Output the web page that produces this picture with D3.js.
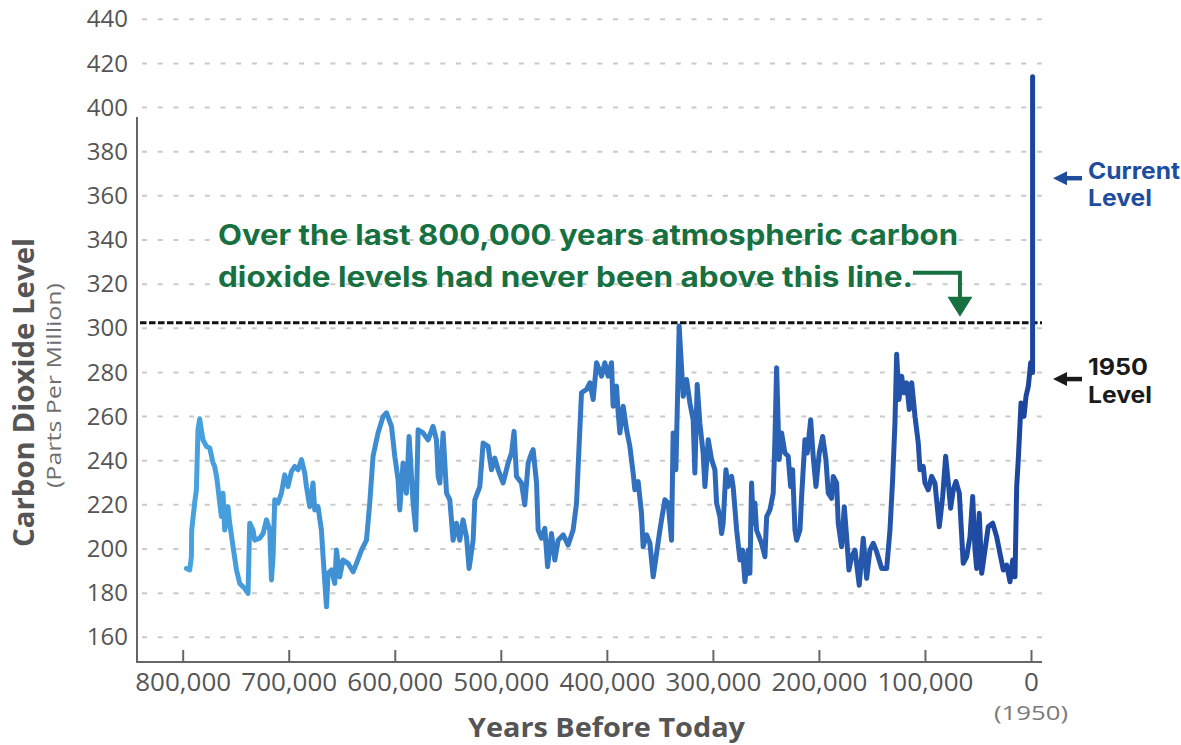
<!DOCTYPE html>
<html><head><meta charset="utf-8">
<script src="https://cdn.jsdelivr.net/npm/d3@7"></script>
<style>html,body{margin:0;padding:0;background:#fff;} svg{display:block}</style>
</head><body>
<svg id="chart" width="1181" height="745"></svg>
<script>
// ---- data: [thousand years before 1950, CO2 ppm] ----
const co2Record = [
[796.5,191.2],[793.4,190.5],[791.8,196.5],[791.5,208.6],[788.7,221.0],[787.1,226.8],[785.6,254.0],[784.0,259.0],[782.4,254.0],[780.9,249.5],[777.6,246.5],[774.5,245.8],[771.4,239.0],[769.8,237.4],[767.6,231.4],[765.8,223.8],[763.5,214.7],[762.0,225.3],[760.4,208.6],[757.3,219.2],[755.7,211.7],[752.5,201.0],[749.3,190.5],[746.2,184.4],[741.5,182.1],[738.4,179.9],[736.8,211.7],[733.7,208.6],[732.1,204.0],[727.4,204.9],[724.2,207.0],[721.0,213.2],[717.9,208.6],[716.3,186.0],[714.8,196.5],[713.2,222.3],[710.1,220.8],[706.9,225.3],[703.8,233.6],[700.7,228.3],[697.5,235.1],[694.3,237.4],[691.2,235.9],[688.0,240.5],[684.9,234.4],[683.3,228.3],[680.2,219.2],[677.1,229.9],[675.5,217.7],[672.4,219.2],[669.2,208.6],[667.6,196.5],[664.4,173.8],[662.9,189.0],[659.7,190.5],[656.6,184.4],[655.0,199.5],[651.9,187.4],[648.8,195.0],[644.1,193.5],[639.3,189.7],[636.1,193.5],[631.4,199.5],[626.7,204.0],[623.6,220.8],[620.5,242.0],[615.8,252.6],[611.0,260.1],[607.8,261.7],[603.1,255.6],[600.0,242.0],[596.9,231.4],[595.3,217.7],[592.2,239.0],[589.0,225.3],[586.5,251.0],[582.7,220.8],[580.2,208.6],[578.0,254.0],[573.3,252.6],[568.6,249.5],
[563.9,255.6],[560.7,249.5],[559.1,232.9],[557.5,229.9],[554.4,252.6],[551.2,225.3],[548.1,222.3],[545.0,204.0],[541.8,211.7],[538.7,204.0],[535.6,213.2],[532.4,205.6],[529.9,191.2],[526.1,204.0],[524.5,222.3],[519.8,228.3],[516.7,248.0],[512.0,246.5],[508.8,235.9],[505.7,241.2],[502.5,235.9],[497.8,229.9],[493.1,239.0],[489.9,243.5],[487.5,253.3],[485.2,232.9],[480.5,229.9],[477.4,220.0],[474.2,239.0],[471.0,243.5],[469.5,245.0],[466.3,229.9],[464.8,208.6],[461.6,204.9],[458.5,209.4],[455.9,192.0],[452.2,207.0],[449.1,195.0],[445.9,204.0],[441.2,206.4],[436.5,201.8],[431.8,208.6],[428.6,220.8],[425.5,254.0],[423.9,270.8],[419.1,272.3],[416.0,275.3],[412.9,267.7],[409.7,284.4],[405.0,278.3],[401.9,284.4],[398.8,278.3],[395.6,284.4],[394.1,264.7],[390.9,273.8],[389.3,261.7],[387.7,252.6],[384.6,264.7],[381.4,254.0],[378.3,246.5],[375.2,234.4],[373.6,226.8],[370.5,230.6],[367.3,216.2],[365.8,201.0],[362.5,206.4],[359.4,202.6],[356.3,187.4],[353.1,198.0],[350.0,208.6],[345.3,222.3],[342.2,220.8],[339.0,204.0],[337.5,252.6],[334.9,235.9],[331.8,301.0],[328.0,269.2],[324.8,276.8],[321.7,266.2],[318.6,258.6],[317.0,234.4],[314.8,274.5],
[312.3,257.1],[309.2,243.5],[307.5,228.3],[304.4,249.5],[301.2,240.5],[298.1,235.9],[296.5,220.8],[293.4,214.7],[291.8,207.0],[290.3,211.7],[287.7,235.9],[285.6,228.3],[282.4,232.9],[280.9,228.3],[277.6,208.6],[274.5,195.0],[272.0,199.5],[269.8,185.2],[266.7,199.5],[265.1,189.0],[263.5,229.9],[262.0,211.7],[260.4,220.8],[258.8,208.6],[254.1,202.6],[250.9,196.5],[249.3,214.7],[246.2,217.7],[243.1,225.3],[241.5,249.5],[239.9,282.1],[237.5,240.5],[235.2,252.6],[232.1,243.5],[229.0,242.0],[226.7,228.3],[224.8,235.9],[222.6,208.6],[221.0,204.0],[217.9,208.6],[216.3,223.8],[213.2,249.5],[211.0,243.5],[207.8,258.6],[205.4,242.0],[202.8,228.3],[199.7,243.5],[196.5,251.0],[193.4,240.5],[191.2,225.3],[188.0,223.0],[186.5,232.9],[183.3,229.9],[181.8,211.7],[178.6,201.0],[176.1,219.2],[173.9,205.6],[171.7,190.5],[169.2,196.5],[166.0,199.5],[162.0,183.6],[158.2,204.9],[155.0,186.7],[151.9,199.5],[148.8,202.6],[145.6,198.8],[140.8,191.2],[136.1,191.2],[133.0,208.6],[130.5,231.4],[128.3,257.1],[126.7,288.2],[124.5,267.7],[122.0,278.3],[119.8,270.8],[117.3,275.3],[114.8,263.2],[112.5,275.3],[109.4,260.1],[106.3,248.0],[104.7,235.9],[101.6,237.4],[100.0,229.9],[96.9,226.8],[93.7,232.9],[90.6,229.9],[86.5,210.1],[83.3,223.8],[80.5,242.0],[78.0,229.9],[75.8,218.5],[73.3,226.8],[70.8,230.6],[67.6,225.3],[63.9,193.5],[60.7,196.5],[57.5,205.6],[55.0,223.8],[52.8,199.5],[51.2,191.2],[48.8,216.2],[46.5,189.0],[43.4,199.5],[40.3,210.1],[36.1,211.7],[32.4,205.6],[29.2,197.9],[26.1,190.5],[22.9,192.7],[19.8,185.2],[17.3,195.0],[15.1,187.4],[13.5,228.3],[12.0,240.5],[9.4,266.2],[6.6,260.1],[4.7,269.2],[2.5,273.8],[0.3,284.4],[-1.5,280.0],[-1.5,414.0]
];
const yTickValues = [160,180,200,220,240,260,280,300,320,340,360,380,400,420,440];
const xTickValues = [800000,700000,600000,500000,400000,300000,200000,100000,0];
const previousMax = 302.5;      // dashed line (ppm)
const currentArrowPpm = 368;    // "Current Level" arrow
const level1950Ppm = 277;       // "1950 Level" arrow
const noteYear = 67000;         // where the green arrow drops
const noteLines = ["Over the last 800,000 years atmospheric carbon","dioxide levels had never been above this line."];

// ---- layout ----
const svg = d3.select("#chart");
const frameLeft = 137, frameRight = 1042, frameBottom = 662, frameTop = 117;
const x = d3.scaleLinear().domain([800000, 0]).range([182.7, 1031]);
const y = d3.scaleLinear().domain([160, 440]).range([637.3, 19.3]);
const axisFont = "'Open Sans', 'DejaVu Sans', sans-serif";
const noteFont = "Inter, 'Open Sans', sans-serif";

// gradient
const defs = svg.append("defs");
const grad = defs.append("linearGradient").attr("id","co2grad")
  .attr("gradientUnits","userSpaceOnUse")
  .attr("x1", x(800000)).attr("x2", x(0)).attr("y1",0).attr("y2",0);
grad.append("stop").attr("offset","0%").attr("stop-color","#48a3df");
grad.append("stop").attr("offset","50%").attr("stop-color","#3373c1");
grad.append("stop").attr("offset","100%").attr("stop-color","#1c459e");

// gridlines
svg.append("g").selectAll("line").data(yTickValues).join("line")
  .attr("x1", frameLeft + 5).attr("x2", frameRight + 2)
  .attr("y1", d => y(d)).attr("y2", d => y(d))
  .attr("stroke", "#cacaca").attr("stroke-width", 2)
  .attr("stroke-dasharray", "5,10.7");

// y axis labels
const yAxis = svg.append("g").attr("transform", `translate(${frameLeft},0)`)
  .call(d3.axisLeft(y).tickValues(yTickValues).tickSize(0).tickPadding(9));
yAxis.select(".domain").remove();
yAxis.selectAll("text").attr("font-family", axisFont).attr("font-size", 24).attr("fill", "#555");

// x axis
const xAxis = svg.append("g").attr("transform", `translate(0,${frameBottom})`)
  .call(d3.axisBottom(x).tickValues(xTickValues).tickSize(-12).tickPadding(11)
        .tickFormat(d3.format(",")));
xAxis.select(".domain").remove();
xAxis.selectAll(".tick line").attr("stroke", "#666").attr("stroke-width", 2);
xAxis.selectAll("text").attr("font-family", axisFont).attr("font-size", 26).attr("fill", "#555");

// frame lines
svg.append("line").attr("x1", frameLeft).attr("x2", frameLeft).attr("y1", frameTop).attr("y2", frameBottom + 1)
  .attr("stroke", "#666").attr("stroke-width", 2);
svg.append("line").attr("x1", frameLeft - 1).attr("x2", frameRight).attr("y1", frameBottom).attr("y2", frameBottom)
  .attr("stroke", "#666").attr("stroke-width", 2);

// previous max dashed line
svg.append("line").attr("x1", frameLeft + 3).attr("x2", frameRight)
  .attr("y1", y(previousMax)).attr("y2", y(previousMax))
  .attr("stroke", "#111").attr("stroke-width", 3).attr("stroke-dasharray", "6.5,2.5");

// CO2 line
const line = d3.line().x(d => x(d[0] * 1000)).y(d => y(d[1]));
svg.append("path").datum(co2Record).attr("d", line)
  .attr("fill", "none").attr("stroke", "url(#co2grad)").attr("stroke-width", 5)
  .attr("stroke-linejoin", "round").attr("stroke-linecap", "round");

// axis titles
svg.append("text").attr("transform", "translate(34,392.5) rotate(-90)")
  .attr("text-anchor", "middle").attr("font-family", axisFont).attr("font-weight", 700)
  .attr("font-size", 28).attr("fill", "#555").attr("textLength", 309).attr("lengthAdjust", "spacingAndGlyphs")
  .text("Carbon Dioxide Level");
svg.append("text").attr("transform", "translate(61,385.5) rotate(-90)")
  .attr("text-anchor", "middle").attr("font-family", axisFont)
  .attr("font-size", 20).attr("fill", "#6e6e6e").attr("textLength", 205).attr("lengthAdjust", "spacingAndGlyphs")
  .text("(Parts Per Million)");
svg.append("text").attr("x", 606.5).attr("y", 737)
  .attr("text-anchor", "middle").attr("font-family", axisFont).attr("font-weight", 700)
  .attr("font-size", 26).attr("fill", "#555").attr("textLength", 277).attr("lengthAdjust", "spacingAndGlyphs")
  .text("Years Before Today");
svg.append("text").attr("x", x(0)).attr("y", 720)
  .attr("text-anchor", "middle").attr("font-family", axisFont)
  .attr("font-size", 20).attr("fill", "#7a7a7a").attr("textLength", 74).attr("lengthAdjust", "spacingAndGlyphs")
  .text("(1950)");

// green note
const green = "#17703f";
const noteWidths = [740, 695];
noteLines.forEach((t, i) => {
  svg.append("text").attr("x", 218).attr("y", 245 + i * 42.3)
    .attr("font-family", noteFont).attr("font-weight", 700).attr("font-size", 28)
    .attr("fill", green).attr("textLength", noteWidths[i]).attr("lengthAdjust", "spacingAndGlyphs")
    .text(t);
});
const ax = x(noteYear), tipY = y(previousMax) - 6;
svg.append("path").attr("d", `M913,272.7 H${ax} V${tipY - 18}`)
  .attr("fill", "none").attr("stroke", green).attr("stroke-width", 4);
svg.append("path").attr("d", `M${ax - 12.5},${tipY - 20} L${ax + 12.5},${tipY - 20} L${ax},${tipY} Z`)
  .attr("fill", green);

// right-hand annotations
function leftArrow(yy, color) {
  const tip = x(0) + 22;
  svg.append("line").attr("x1", tip + 10).attr("x2", tip + 29).attr("y1", yy).attr("y2", yy)
    .attr("stroke", color).attr("stroke-width", 4.5);
  svg.append("path").attr("d", `M${tip},${yy} L${tip + 14},${yy - 7} L${tip + 14},${yy + 7} Z`).attr("fill", color);
}
const blue = "#1f4d9e";
leftArrow(y(currentArrowPpm), blue);
leftArrow(y(level1950Ppm), "#1a1a1a");
[["Current", 179.3, 92], ["Level", 205.7, 64]].forEach(([t, yy, w]) => {
  svg.append("text").attr("x", 1088).attr("y", yy).attr("font-family", noteFont).attr("font-weight", 700)
    .attr("font-size", 23).attr("fill", blue).attr("textLength", w).attr("lengthAdjust", "spacingAndGlyphs").text(t);
});
[["1950", 375, 60], ["Level", 402.7, 64]].forEach(([t, yy, w]) => {
  svg.append("text").attr("x", 1088).attr("y", yy).attr("font-family", noteFont).attr("font-weight", 700)
    .attr("font-size", 23).attr("fill", "#1a1a1a").attr("textLength", w).attr("lengthAdjust", "spacingAndGlyphs").text(t);
});
</script>
</body></html>
